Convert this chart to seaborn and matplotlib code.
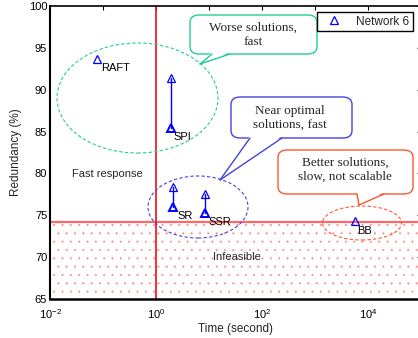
import numpy as np
import pandas as pd
import matplotlib
matplotlib.use("Agg")
import matplotlib.pyplot as plt
import seaborn as sns
from matplotlib.patches import Ellipse, FancyBboxPatch, Polygon
from matplotlib.lines import Line2D
from matplotlib.ticker import FixedLocator, FuncFormatter

# ---- data ----
methods = ["RAFT", "SPI", "SR", "SSR", "BB"]
time_s = [0.077, 1.92, 2.1, 8.4, 5700.0]
redundancy_start = [93.7, 91.4, 78.4, 77.6, 74.3]
redundancy_final = [93.7, 85.4, 76.0, 75.3, 74.3]
feasible_threshold = 74.2
x_decades = [-2, -1, 0, 1, 2, 3, 4, 5]
y_ticks = [65, 70, 75, 80, 85, 90, 95, 100]
legend_label = "Network 6"

sns.set_style("white")
plt.rcParams["font.family"] = ["Liberation Sans", "DejaVu Sans"]
plt.rcParams["mathtext.fontset"] = "custom"
plt.rcParams["mathtext.rm"] = "Liberation Sans"
plt.rcParams["mathtext.it"] = "Liberation Sans:italic"
plt.rcParams["hatch.linewidth"] = 0.2

df = pd.DataFrame({
    "method": methods * 2,
    "time": time_s * 2,
    "redundancy": redundancy_start + redundancy_final,
    "stage": ["start"] * len(methods) + ["final"] * len(methods),
})
moved = df[(df.stage == "final")
           & (np.array(redundancy_final * 2) != np.array(redundancy_start * 2))]

W, H = 418, 338
fig = plt.figure(figsize=(W / 100, H / 100), dpi=100)
AX_L, AX_R, AX_T, AX_B = 50, 421, 6, 299
ax = fig.add_axes([AX_L / W, 1 - AX_B / H, (AX_R - AX_L) / W, (AX_B - AX_T) / H])


def fx(px):
    return (px - AX_L) / (AX_R - AX_L)


def fy(py):
    return 1 - (py - AX_T) / (AX_B - AX_T)


ax.set_xscale("log")
ax.set_xlim(10.0 ** x_decades[0], 10.0 ** x_decades[-1])
ax.set_ylim(y_ticks[0], y_ticks[-1])

# infeasible region
ax.axhspan(y_ticks[0], feasible_threshold, facecolor="none", edgecolor="#ff8080",
           hatch="..", lw=0, zorder=1)
ax.axhline(feasible_threshold, color="#ff6868", lw=1.6, zorder=2)
ax.axvline(1.0, color="#ee1111", lw=1.2, zorder=2)

# connecting lines and markers
sns.lineplot(data=df, x="time", y="redundancy", units="method", estimator=None,
             sort=False, color="blue", lw=1.0, ax=ax, legend=False, zorder=4)
sns.lineplot(data=df[df.stage == "start"], x="time", y="redundancy", units="method",
             estimator=None, sort=False, lw=0, marker="^", markersize=6,
             markerfacecolor="none", markeredgecolor="blue", markeredgewidth=0.9,
             ax=ax, legend=False, zorder=5)
sns.lineplot(data=moved, x="time", y="redundancy", units="method",
             estimator=None, sort=False, lw=0, marker="^", markersize=6,
             markerfacecolor="none", markeredgecolor="blue", markeredgewidth=1.4,
             ax=ax, legend=False, zorder=5)

# method labels
offsets = {"RAFT": (4, -9), "SPI": (2, -9), "SR": (4, -9), "SSR": (3, -9), "BB": (2, -10)}
for m, t, r in zip(methods, time_s, redundancy_final):
    ax.annotate(m, (t, r), xytext=offsets[m], textcoords="offset pixels",
                ha="left", va="center", fontsize=8, color="black", zorder=6)

ax.text(fx(107), fy(174), "Fast response", transform=ax.transAxes, ha="center",
        va="center", fontsize=8)
ax.text(fx(237), fy(257), "Infeasible", transform=ax.transAxes, ha="center",
        va="center", fontsize=8)

# ellipses (pixel-defined, in axes fraction)
def ellipse(cx, cy, w, h, color):
    e = Ellipse((fx(cx), fy(cy)), w / (AX_R - AX_L), h / (AX_B - AX_T),
                transform=ax.transAxes, fill=False, ec=color, ls=(0, (3, 2)),
                lw=0.8, zorder=3)
    ax.add_patch(e)


green = "#22cc99"
bluec = "#4444dd"
redc = "#ff5533"
ellipse(137.5, 98, 161, 110, green)
ellipse(198, 207, 100, 62, bluec)
ellipse(362, 223, 79, 34, redc)


def callout(x0, y0, x1, y1, base, tip, color, text, tc):
    box = FancyBboxPatch((fx(x0), fy(y1)), fx(x1) - fx(x0), fy(y0) - fy(y1),
                         boxstyle="round,pad=0,rounding_size=0.025",
                         transform=ax.transAxes, fc="white", ec=color, lw=1.0,
                         zorder=7, clip_on=False)
    ax.add_patch(box)
    (bx0, by0), (bx1, by1) = base
    poly = Polygon([(fx(bx0), fy(by0 - 2)), (fx(bx1), fy(by1 - 2)), (fx(tip[0]), fy(tip[1]))],
                   closed=True, transform=ax.transAxes, fc="white", ec="none",
                   zorder=8, clip_on=False)
    ax.add_patch(poly)
    for bx, by in base:
        ax.add_line(Line2D([fx(bx), fx(tip[0])], [fy(by), fy(tip[1])],
                           transform=ax.transAxes, color=color, lw=1.0, zorder=9,
                           clip_on=False))
    ax.text(fx(tc[0]), fy(tc[1]), text, transform=ax.transAxes, ha="center",
            va="center", fontsize=9.5, family=["Liberation Serif", "DejaVu Serif"],
            linespacing=1.2, zorder=10)


callout(190, 15, 317, 54, [(212, 54), (230, 54)], (200, 64), green,
        "Worse solutions,\nfast", (253, 35))
callout(231, 97, 352, 138, [(250, 138), (282, 138)], (220, 180), bluec,
        "Near optimal\nsolutions, fast", (290, 118))
callout(278, 150, 413, 194, [(357, 194), (384, 194)], (359, 205), redc,
        "Better solutions,\nslow, not scalable", (345, 170))

# axes formatting
ax.xaxis.set_major_locator(FixedLocator([10.0 ** d for d in x_decades]))
ax.xaxis.set_minor_locator(FixedLocator([]))
ax.xaxis.set_major_formatter(FuncFormatter(
    lambda v, p: r"$10^{%d}$" % round(np.log10(v)) if round(np.log10(v)) % 2 == 0 else ""))
ax.set_yticks(y_ticks)
ax.tick_params(direction="in", length=3, width=0.8, top=True, right=True,
               labelsize=8, colors="black")
ax.tick_params(axis="x", pad=6)
ax.tick_params(axis="y", pad=2)
for s in ax.spines.values():
    s.set_color("black")
    s.set_linewidth(1.2)
ax.spines["bottom"].set_linewidth(1.8)
ax.spines["left"].set_linewidth(1.5)
ax.set_xlabel("Time (second)", fontsize=8.5, labelpad=1)
ax.set_ylabel("Redundancy (%)", fontsize=8.5, labelpad=5)
ax.grid(False)

handle = Line2D([], [], ls="none", marker="^", markersize=6, markerfacecolor="none",
                markeredgecolor="blue", markeredgewidth=0.9)
leg = ax.legend([handle], [legend_label], loc="upper right",
                bbox_to_anchor=(fx(413), fy(12)), borderaxespad=0, fancybox=False,
                framealpha=1, edgecolor="black", fontsize=8.5, handlelength=2.2,
                borderpad=0.3, handletextpad=0.8)
leg.get_frame().set_linewidth(1.0)
leg.set_zorder(11)

fig.savefig("out.png", dpi=100)
